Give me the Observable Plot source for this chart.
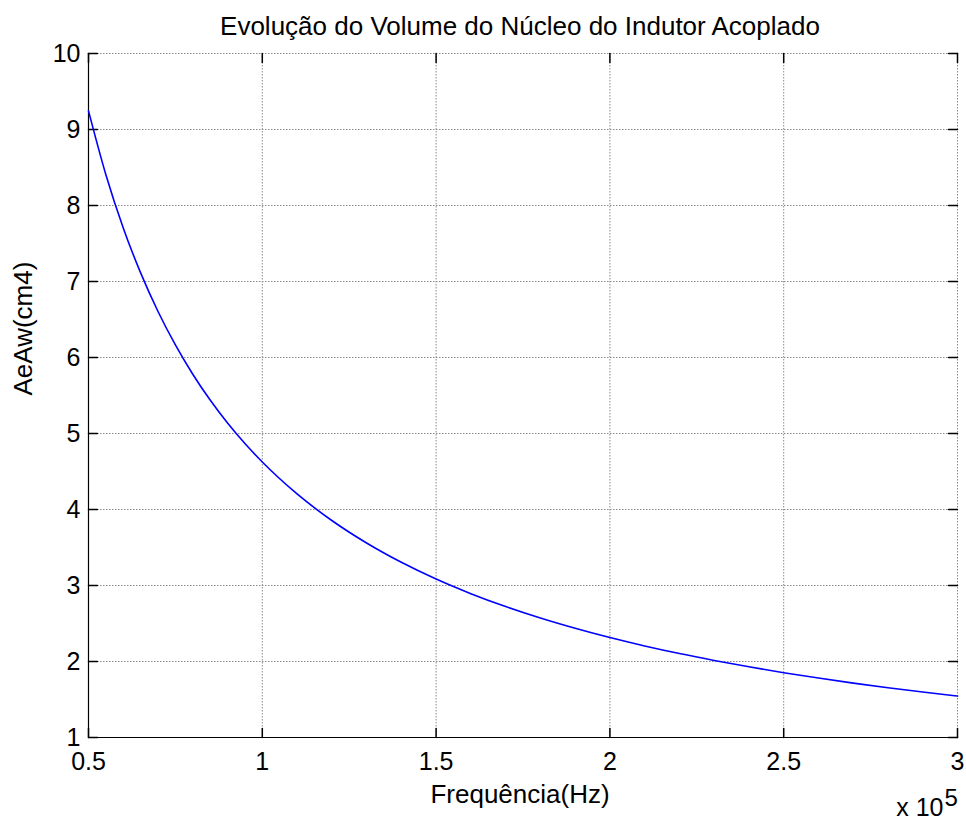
<!DOCTYPE html>
<html>
<head>
<meta charset="utf-8">
<script src="https://cdn.jsdelivr.net/npm/d3@7"></script>
<script src="https://cdn.jsdelivr.net/npm/@observablehq/plot@0.6"></script>
<style>
  html, body { margin: 0; padding: 0; background: #fff; }
  #chart { width: 966px; height: 820px; }
</style>
</head>
<body>
<div id="chart"></div>
<script>
// Data (frequency in units of 1e5 Hz)
const freq = [0.5, 0.55, 0.6, 0.65, 0.7, 0.75, 0.8, 0.85, 0.9, 0.95, 1.0, 1.1, 1.2, 1.3, 1.4, 1.5, 1.6, 1.7, 1.8, 1.9, 2.0, 2.1, 2.2, 2.3, 2.4, 2.5, 2.6, 2.7, 2.8, 2.9, 3.0];
const aeaw = [9.245, 8.405, 7.705, 7.113, 6.605, 6.165, 5.780, 5.440, 5.138, 4.868, 4.625, 4.205, 3.855, 3.559, 3.305, 3.085, 2.893, 2.723, 2.572, 2.437, 2.315, 2.205, 2.105, 2.014, 1.930, 1.853, 1.782, 1.716, 1.655, 1.598, 1.545];

const xTicks = [0.5, 1, 1.5, 2, 2.5, 3];
const xTickLabels = ["0.5", "1", "1.5", "2", "2.5", "3"];
const yTicks = [1, 2, 3, 4, 5, 6, 7, 8, 9, 10];
const yTickLabels = ["1", "2", "3", "4", "5", "6", "7", "8", "9", "10"];

const titleText = "Evolução do Volume do Núcleo do Indutor Acoplado";
const xLabel = "Frequência(Hz)";
const yLabel = "AeAw(cm4)";
const xMultiplier = "x 10";
const xExponent = "5";

const rows = freq.map((f, i) => ({f, v: aeaw[i]}));

const tickShape = {
  draw(context, l) {
    context.moveTo(0, 0);
    context.lineTo(0, -l);
  }
};
const tickLen = 9;
const gridStyle = {stroke: "#8a8a8a", strokeOpacity: 1, strokeWidth: 1, strokeDasharray: "1.5,1.5"};
const FONT = "'Liberation Sans', Arial, Helvetica, sans-serif";

const chart = Plot.plot({
  width: 966,
  height: 820,
  marginLeft: 88,
  marginRight: 9,
  marginTop: 53,
  marginBottom: 83,
  style: {fontFamily: FONT, background: "#fff", color: "#000", overflow: "visible"},
  x: {domain: [xTicks[0], xTicks[xTicks.length - 1]]},
  y: {domain: [yTicks[0], yTicks[yTicks.length - 1]]},
  marks: [
    Plot.gridX(xTicks, gridStyle),
    Plot.gridY(yTicks, gridStyle),
    Plot.ruleX([xTicks[0]], {stroke: "#000", strokeWidth: 1.2}),
    Plot.ruleY([yTicks[0]], {stroke: "#000", strokeWidth: 1.2}),
    // inward ticks on all four sides
    Plot.vector(xTicks, {x: d => d, frameAnchor: "bottom", rotate: 0, length: tickLen, anchor: "start", shape: tickShape, stroke: "#000"}),
    Plot.vector(xTicks, {x: d => d, frameAnchor: "top", rotate: 180, length: tickLen, anchor: "start", shape: tickShape, stroke: "#000"}),
    Plot.vector(yTicks, {y: d => d, frameAnchor: "left", rotate: 90, length: tickLen, anchor: "start", shape: tickShape, stroke: "#000"}),
    Plot.vector(yTicks, {y: d => d, frameAnchor: "right", rotate: -90, length: tickLen, anchor: "start", shape: tickShape, stroke: "#000"}),
    Plot.line(rows, {x: "f", y: "v", stroke: "#0000ff", strokeWidth: 1.6, curve: "monotone-x"}),
    Plot.axisX(xTicks, {anchor: "bottom", tickSize: 0, tickPadding: 15, fontSize: 25, label: null,
      tickFormat: d => xTickLabels[xTicks.indexOf(d)]}),
    Plot.axisY(yTicks, {anchor: "left", tickSize: 0, tickPadding: 8, fontSize: 25, label: null,
      tickFormat: d => yTickLabels[yTicks.indexOf(d)]}),
    Plot.text([titleText], {text: d => d, frameAnchor: "top", dx: -3, dy: -19, lineAnchor: "bottom", fontSize: 26}),
    Plot.text([xLabel], {text: d => d, frameAnchor: "bottom", dx: -3, dy: 65, lineAnchor: "bottom", fontSize: 26}),
    Plot.text([yLabel], {text: d => d, frameAnchor: "left", dx: -57, rotate: -90, lineAnchor: "bottom", fontSize: 26}),
    Plot.text([xMultiplier], {text: d => d, frameAnchor: "bottom-right", dx: -14, dy: 78, textAnchor: "end", lineAnchor: "bottom", fontSize: 25}),
    Plot.text([xExponent], {text: d => d, frameAnchor: "bottom-right", dx: -13, dy: 68, textAnchor: "start", lineAnchor: "bottom", fontSize: 24})
  ]
});

document.getElementById("chart").appendChild(chart);
</script>
</body>
</html>
